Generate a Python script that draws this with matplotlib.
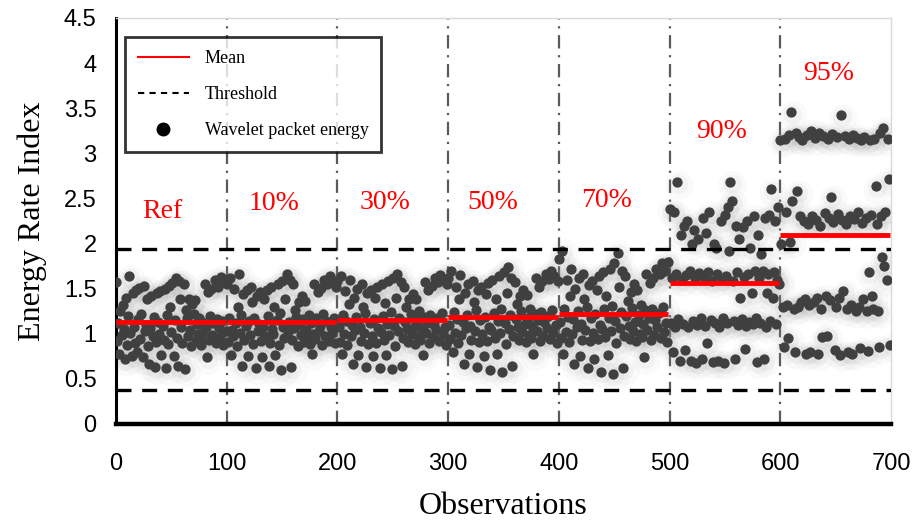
import numpy as np
import matplotlib.pyplot as plt
from matplotlib.lines import Line2D

# energy rate index, 100 observations per damage state
ref = [1.57, 0.92, 1.12, 0.78, 1.25, 0.99, 1.32, 1.05, 0.72, 1.40,
       0.88, 1.20, 1.64, 1.01, 0.75, 1.45, 1.08, 0.90, 1.48, 0.80,
       1.16, 1.51, 0.94, 1.22, 0.74, 1.53, 1.03, 1.10, 1.38, 0.87,
       0.66, 1.06, 1.42, 0.97, 1.19, 0.63, 0.91, 1.45, 1.13, 1.00,
       1.47, 0.76, 1.09, 0.93, 1.50, 0.62, 1.21, 0.89, 1.53, 1.30,
       1.02, 1.56, 0.75, 1.15, 1.62, 0.95, 0.64, 1.58, 1.38, 1.07,
       0.90, 1.55, 0.61, 1.26, 1.17, 0.98, 1.38, 1.04, 0.86, 1.33,
       1.22, 1.37, 0.92, 1.11, 1.00, 1.18, 0.94, 0.88, 1.13, 1.02,
       1.55, 1.08, 0.74, 1.46, 0.93, 1.20, 1.50, 0.99, 1.12, 1.60,
       0.90, 1.16, 1.52, 1.06, 0.96, 1.63, 1.14, 0.88, 1.57, 1.03]
d10 = [1.55, 0.91, 1.17, 1.62, 0.77, 1.04, 0.98, 1.50, 1.12, 0.87,
       1.30, 1.66, 1.01, 1.21, 0.64, 1.44, 0.93, 1.09, 1.48, 0.75,
       1.14, 0.99, 1.52, 1.35, 0.89, 1.18, 0.62, 1.42, 1.03, 1.11,
       1.46, 0.92, 0.74, 1.07, 1.38, 0.97, 1.49, 1.20, 0.64, 0.90,
       1.52, 1.05, 1.00, 1.30, 0.76, 1.15, 1.55, 0.88, 1.23, 0.60,
       1.58, 1.08, 0.95, 1.38, 1.66, 1.02, 1.13, 1.60, 0.63, 0.93,
       1.55, 1.06, 1.26, 1.19, 0.87, 1.35, 1.10, 0.99, 1.42, 1.16,
       0.91, 1.36, 1.04, 0.96, 1.21, 0.89, 1.12, 0.78, 1.00, 1.55,
       0.94, 1.18, 1.46, 1.03, 1.09, 1.51, 0.88, 1.22, 1.60, 0.97,
       1.14, 1.55, 0.92, 1.64, 1.07, 1.01, 1.58, 1.17, 0.90, 1.52]
d30 = [1.58, 1.08, 0.91, 1.64, 0.78, 1.21, 1.00, 1.47, 1.14, 0.88,
       1.33, 1.60, 0.97, 1.10, 0.66, 1.40, 1.04, 1.19, 1.50, 0.76,
       1.07, 0.92, 1.55, 1.30, 1.01, 1.23, 0.63, 1.45, 0.89, 1.12,
       1.48, 0.98, 0.75, 1.16, 1.40, 0.90, 1.52, 1.06, 0.62, 1.02,
       1.55, 1.20, 0.93, 1.34, 0.77, 1.11, 1.58, 0.99, 1.24, 0.61,
       1.62, 1.09, 0.87, 1.40, 1.66, 1.03, 1.18, 1.57, 0.64, 0.95,
       1.52, 1.13, 1.30, 1.05, 0.91, 1.38, 1.22, 1.00, 1.44, 1.08,
       0.89, 1.39, 1.15, 0.97, 1.25, 0.93, 1.06, 0.77, 1.19, 1.57,
       1.01, 1.12, 1.48, 0.90, 1.21, 1.53, 0.96, 1.10, 1.62, 1.04,
       1.17, 1.57, 0.92, 1.65, 1.23, 0.99, 1.60, 1.07, 0.88, 1.55]
d50 = [1.62, 1.10, 0.94, 1.70, 0.80, 1.24, 1.01, 1.52, 1.16, 0.90,
       1.38, 1.65, 0.99, 1.13, 0.66, 1.45, 1.06, 1.21, 1.55, 0.78,
       1.09, 0.93, 1.58, 1.35, 1.03, 1.26, 0.63, 1.48, 0.91, 1.15,
       1.52, 1.00, 0.75, 1.19, 1.44, 0.92, 1.56, 1.08, 0.60, 1.04,
       1.60, 1.23, 0.95, 1.38, 0.78, 1.14, 1.64, 1.01, 1.27, 0.58,
       1.68, 1.12, 0.89, 1.45, 1.74, 1.05, 1.21, 1.62, 0.64, 0.97,
       1.57, 1.16, 1.33, 1.07, 0.93, 1.42, 1.25, 1.02, 1.49, 1.11,
       0.91, 1.43, 1.18, 0.99, 1.28, 0.95, 1.09, 0.78, 1.22, 1.62,
       1.03, 1.15, 1.52, 0.92, 1.24, 1.58, 0.98, 1.13, 1.66, 1.06,
       1.20, 1.61, 0.94, 1.70, 1.26, 1.01, 1.64, 1.10, 0.90, 1.58]
d70 = [1.83, 1.13, 0.95, 1.92, 0.78, 1.28, 1.02, 1.60, 1.19, 0.91,
       1.42, 1.72, 1.00, 1.16, 0.66, 1.50, 1.07, 1.25, 1.62, 0.75,
       1.11, 0.93, 1.66, 1.38, 1.04, 1.30, 0.62, 1.54, 0.92, 1.18,
       1.58, 1.01, 0.72, 1.22, 1.48, 0.94, 1.64, 1.10, 0.58, 1.05,
       1.68, 1.27, 0.96, 1.42, 0.76, 1.17, 1.72, 1.03, 1.31, 0.55,
       1.78, 1.14, 0.90, 1.90, 1.52, 1.06, 1.24, 1.70, 0.62, 0.98,
       1.64, 1.20, 1.36, 1.09, 0.94, 1.46, 1.29, 1.03, 1.55, 1.13,
       0.92, 1.48, 1.21, 1.00, 1.32, 0.96, 1.11, 0.74, 1.26, 1.66,
       1.04, 1.18, 1.56, 0.93, 1.28, 1.62, 0.99, 1.15, 1.72, 1.07,
       1.23, 1.66, 0.95, 1.78, 1.30, 1.02, 1.70, 1.12, 0.91, 1.80]
d90 = [2.38, 1.12, 1.62, 0.80, 2.35, 1.08, 1.66, 2.68, 1.16, 0.70,
       2.10, 1.60, 1.11, 2.20, 0.82, 1.65, 2.25, 1.07, 1.70, 0.70,
       2.00, 1.14, 2.15, 1.62, 0.68, 1.10, 2.05, 1.67, 1.18, 0.72,
       2.28, 1.63, 1.09, 2.12, 0.90, 1.68, 2.35, 1.15, 1.58, 0.69,
       2.00, 1.12, 1.95, 1.66, 0.70, 1.08, 2.25, 1.61, 1.17, 0.68,
       2.32, 1.64, 1.12, 2.40, 1.92, 2.68, 2.47, 1.59, 1.14, 0.72,
       2.20, 1.68, 1.10, 2.05, 1.40, 1.16, 2.18, 1.63, 0.83, 1.09,
       2.25, 1.66, 1.13, 1.95, 1.45, 1.11, 2.30, 1.70, 1.18, 0.69,
       2.10, 1.62, 1.12, 1.88, 1.70, 0.72, 2.28, 1.08, 1.45, 1.66,
       2.32, 1.14, 2.60, 1.40, 1.68, 2.25, 1.11, 1.60, 2.40, 1.55]
d95 = [3.15, 2.00, 1.30, 0.85, 3.16, 2.35, 1.32, 0.95, 3.20, 2.02,
       3.46, 2.47, 1.28, 0.80, 3.22, 2.58, 1.30, 3.18, 2.30, 1.35,
       3.15, 2.25, 1.38, 0.78, 3.20, 2.22, 1.32, 0.80, 3.25, 2.30,
       1.35, 3.17, 2.26, 1.40, 0.78, 3.22, 2.20, 1.28, 0.96, 3.19,
       2.34, 1.42, 0.98, 3.16, 2.28, 1.37, 2.52, 3.21, 2.24, 0.82,
       1.30, 3.18, 2.33, 1.40, 0.77, 3.42, 2.26, 1.47, 3.19, 2.22,
       1.27, 0.80, 3.16, 2.30, 1.32, 0.78, 3.20, 2.27, 1.25, 3.17,
       2.35, 1.30, 0.84, 3.15, 2.23, 1.38, 3.18, 2.28, 1.25, 0.81,
       1.68, 3.15, 2.32, 1.42, 1.27, 3.16, 2.64, 2.22, 1.25, 0.85,
       3.22, 2.30, 1.85, 3.28, 1.75, 2.35, 1.60, 3.16, 2.72, 0.88]

segments = [ref, d10, d30, d50, d70, d90, d95]
seg_labels = ['Ref', '10%', '30%', '50%', '70%', '90%', '95%']
seg_means = [1.13, 1.13, 1.15, 1.19, 1.22, 1.56, 2.09]
label_x = [42, 143, 243, 340, 443, 547, 644]
label_y = [2.35, 2.44, 2.45, 2.45, 2.48, 3.24, 3.88]
thr_upper = 1.94
thr_lower = 0.38

energy = np.concatenate(segments)
obs = np.arange(len(energy))

plt.rcParams['font.family'] = ['Liberation Serif', 'DejaVu Serif']
fig = plt.figure(figsize=(9.15, 5.23), dpi=100)
ax = fig.add_axes([0.1268, 0.1893, 0.847, 0.7763])

for xv in range(100, 700, 100):
    ax.axvline(xv, color='#5a5a5a', lw=1.6, ls=(0, (6, 3, 1, 3)), zorder=1)

# soft shadow under the points
ax.scatter(obs + 1.5, energy - 0.03, s=420, color='#9a9a9a', alpha=0.045, lw=0, zorder=2)
ax.scatter(obs + 1, energy - 0.02, s=190, color='#8a8a8a', alpha=0.07, lw=0, zorder=2)
ax.scatter(obs, energy, s=55, color='#404040', lw=0, zorder=3)

ax.axhline(thr_upper, color='black', lw=2.4, ls=(0, (4.5, 3.2)), zorder=4)
ax.axhline(thr_lower, color='black', lw=2.4, ls=(0, (4.5, 3.2)), zorder=4)

for i, m in enumerate(seg_means):
    ax.plot([i * 100, i * 100 + 99], [m, m], color='#ff0000', lw=3.5, zorder=5,
            solid_capstyle='butt')

for lx, ly, t in zip(label_x, label_y, seg_labels):
    ax.text(lx, ly, t, color='#ff0000', fontsize=20, ha='center', va='center', zorder=6)

ax.set_xlim(0, 700)
ax.set_ylim(0, 4.5)
ax.set_xticks(range(0, 701, 100))
ax.set_yticks(np.arange(0, 4.51, 0.5))
ax.set_yticklabels(['0', '0.5', '1', '1.5', '2', '2.5', '3', '3.5', '4', '4.5'])
tick_font = ['Liberation Sans Narrow', 'Liberation Sans', 'DejaVu Sans']
for lab in ax.get_xticklabels() + ax.get_yticklabels():
    lab.set_family(tick_font)
    lab.set_fontsize(17)
ax.tick_params(axis='y', length=0, pad=14)
ax.tick_params(axis='x', length=0, pad=21)

ax.spines['left'].set_linewidth(2.2)
ax.spines['bottom'].set_linewidth(3.2)
ax.spines['top'].set_color('#d9d9d9')
ax.spines['right'].set_color('#d9d9d9')
ax.spines['top'].set_linewidth(1)
ax.spines['right'].set_linewidth(1)

ax.set_xlabel('Observations', fontsize=23, labelpad=12)
ax.set_ylabel('Energy Rate Index', fontsize=23, labelpad=12)

handles = [
    Line2D([], [], color='#ff0000', lw=1.5),
    Line2D([], [], color='black', lw=1.5, ls=(0, (3, 2.5))),
    Line2D([], [], color='black', marker='o', ls='none', markersize=9),
]
leg = ax.legend(handles, ['Mean', 'Threshold', 'Wavelet packet energy'],
                loc='upper left', bbox_to_anchor=(0.012, 0.952), fontsize=13,
                frameon=True, fancybox=False, labelspacing=1.05, handlelength=2.8,
                borderpad=0.7, handletextpad=0.9, borderaxespad=0)
leg.get_frame().set_edgecolor('black')
leg.get_frame().set_linewidth(2)
leg.set_zorder(10)

fig.savefig('out.png', dpi=100)
